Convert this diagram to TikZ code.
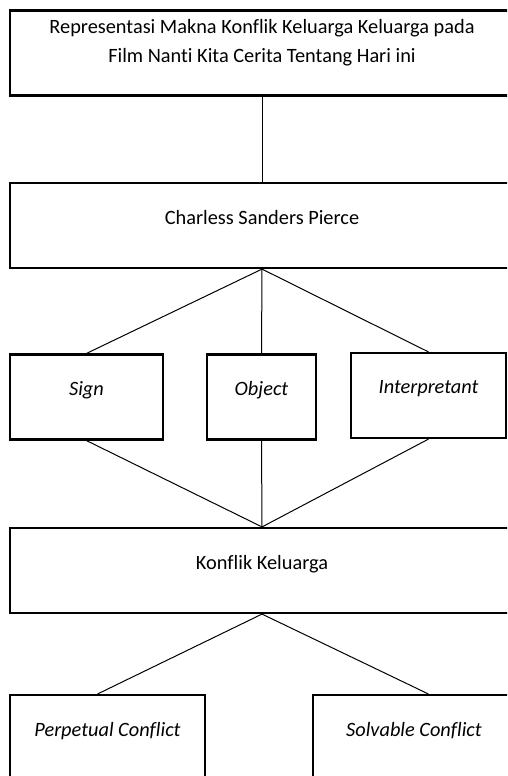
\documentclass[tikz,border=0pt]{standalone}
\usepackage{fontspec}
\setmainfont{Carlito}[Ligatures=NoCommon]
\usetikzlibrary{calc}
\tikzset{
	box/.style={draw, line width=1.3pt, rectangle, minimum height=51pt, text depth=10pt, font=\fontsize{12.2}{17.4}\selectfont, align=center},
	link/.style={line width=0.6pt}
}

\begin{document}
\begin{tikzpicture}[x=0.6pt, y=-0.6pt]
			%%%%% START %%%%%
			
			\useasboundingbox (0, 0) rectangle (507, 776);
			\clip (0, 0) rectangle (507, 776);
			
			\node[box, minimum width=302.4pt, text depth=14pt] (judul) at (262, 53) {Representasi Makna Konflik Keluarga Keluarga pada\\Film Nanti Kita Cerita Tentang Hari ini};
			\node[box, minimum width=302.4pt] (pierce) at (262, 225.5) {Charless Sanders Pierce};
			
			\node[box, minimum width=91.8pt] (sign) at (86.5, 397) {\itshape Sign};
			\node[box, minimum width=65.4pt] (object) at (261.5, 397) {\itshape Object};
			\node[box, minimum width=93pt] (interp) at (428.5, 395.5) {\itshape Interpretant};
			
			\node[box, minimum width=302.4pt] (konflik) at (262, 570.5) {Konflik Keluarga};
			
			\node[box, minimum width=117pt] (perpetual) at (107.5, 737.5) {\itshape Perpetual Conflict};
			\node[box, minimum width=121.2pt] (solvable) at (414, 737.5) {\itshape Solvable Conflict};
			
			\draw[link] (judul.south) -- (pierce.north);
			
			\draw[link] (pierce.south) -- (sign.north);
			\draw[link] (pierce.south) -- (object.north);
			\draw[link] (pierce.south) -- (interp.north);
			
			\draw[link] (sign.south) -- (konflik.north);
			\draw[link] (object.south) -- (konflik.north);
			\draw[link] (interp.south) -- (konflik.north);
			
			\draw[link] (konflik.south) -- ($(perpetual.north west)!0.45!(perpetual.north east)$);
			\draw[link] (konflik.south) -- ($(solvable.north west)!0.57!(solvable.north east)$);
			
			%%%%% END %%%%%
\end{tikzpicture}
\end{document}
